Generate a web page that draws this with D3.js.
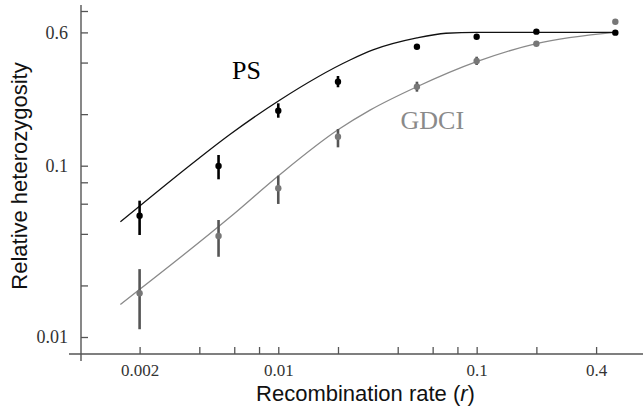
<!DOCTYPE html>
<html>
<head>
<meta charset="utf-8">
<script src="https://cdn.jsdelivr.net/npm/d3@7"></script>
<style>
  body { margin: 0; background: #fff; }
  svg { display: block; }
</style>
</head>
<body>
<div id="chart"></div>
<script>
// recombination rates of the simulated points
var rates = [0.002, 0.005, 0.01, 0.02, 0.05, 0.1, 0.2, 0.5];

// PS: means and error bar ends (null = no visible bar)
var psMean = [0.051, 0.0996, 0.2095, 0.309, 0.495, 0.566, 0.606, 0.598];
var psLow  = [0.0394, 0.0833, 0.1906, 0.287, null, null, null, null];
var psHigh = [0.0625, 0.1155, 0.2313, 0.334, null, null, null, null];

// GDCI: means and error bar ends
var gdMean = [0.018, 0.0389, 0.0738, 0.1477, 0.289, 0.4086, 0.5155, 0.693];
var gdLow  = [0.0111, 0.0294, 0.0598, 0.128, 0.2704, 0.3871, null, null];
var gdHigh = [0.0249, 0.0482, 0.0874, 0.1637, 0.3093, 0.4328, null, null];

// fitted curves
var psCurveR = [0.0016, 0.004, 0.0057, 0.0102, 0.023, 0.03, 0.05, 0.07, 0.1, 0.2, 0.5];
var psCurveH = [0.047, 0.111, 0.152, 0.242, 0.414, 0.474, 0.557, 0.593, 0.601, 0.6, 0.6];
var gdCurveR = [0.0016, 0.0057, 0.0101, 0.02, 0.029, 0.05, 0.1, 0.2, 0.5];
var gdCurveH = [0.0155, 0.05, 0.088, 0.162, 0.211, 0.289, 0.405, 0.516, 0.6];

var xTicks = [0.002, 0.004, 0.006, 0.008, 0.01, 0.02, 0.04, 0.06, 0.08, 0.1, 0.2, 0.4];
var xLabels = [0.002, 0.01, 0.1, 0.4];
var yTicks = [0.01, 0.02, 0.04, 0.06, 0.08, 0.1, 0.2, 0.4, 0.6, 0.8];
var yLabels = [0.01, 0.1, 0.6];

var width = 643, height = 416;

var svg = d3.select("#chart").append("svg")
  .attr("width", width)
  .attr("height", height);

var x = d3.scaleLog().domain([0.002, 0.4]).range([139.6, 596.1]);
var y = d3.scaleLog().domain([0.01, 0.6]).range([337, 32.4]);

var axisY0 = 354, axisX0 = 81;
var axisColor = "#555";
var serif = "'Liberation Serif', 'Times New Roman', serif";
var sans = "'Liberation Sans', Arial, sans-serif";

// x axis
var xAxis = svg.append("g")
  .attr("transform", "translate(0," + axisY0 + ")")
  .call(d3.axisBottom(x)
    .tickValues(xTicks)
    .tickSize(-7)
    .tickPadding(10)
    .tickFormat(function (d) { return xLabels.indexOf(d) >= 0 ? d3.format("")(d) : ""; }));
xAxis.select(".domain").remove();
xAxis.selectAll(".tick line").attr("stroke", axisColor).attr("stroke-width", 1.3);
xAxis.selectAll("text").attr("font-family", serif).attr("font-size", 17).attr("fill", "#333");
svg.append("line")
  .attr("x1", 69).attr("x2", width)
  .attr("y1", axisY0).attr("y2", axisY0)
  .attr("stroke", axisColor).attr("stroke-width", 1.4);

// y axis
var yAxis = svg.append("g")
  .attr("transform", "translate(" + axisX0 + ",0)")
  .call(d3.axisLeft(y)
    .tickValues(yTicks)
    .tickSize(-7)
    .tickPadding(13)
    .tickFormat(function (d) { return yLabels.indexOf(d) >= 0 ? d3.format("")(d) : ""; }));
yAxis.select(".domain").remove();
yAxis.selectAll(".tick line").attr("stroke", axisColor).attr("stroke-width", 1.3);
yAxis.selectAll("text").attr("font-family", serif).attr("font-size", 18).attr("fill", "#333");
svg.append("line")
  .attr("x1", axisX0).attr("x2", axisX0)
  .attr("y1", 5).attr("y2", 361)
  .attr("stroke", axisColor).attr("stroke-width", 1.4);

// axis titles
svg.append("text")
  .attr("x", 365.5).attr("y", 401)
  .attr("text-anchor", "middle")
  .attr("font-family", sans).attr("font-size", 22).attr("fill", "#111")
  .html("Recombination rate (<tspan font-style='italic'>r</tspan>)");

svg.append("text")
  .attr("transform", "translate(26.5,176) rotate(-90)")
  .attr("text-anchor", "middle")
  .attr("font-family", sans).attr("font-size", 22).attr("fill", "#111")
  .text("Relative heterozygosity");

// curves
var line = d3.line()
  .x(function (d) { return x(d[0]); })
  .y(function (d) { return y(d[1]); })
  .curve(d3.curveMonotoneX);

svg.append("path")
  .datum(d3.zip(gdCurveR, gdCurveH))
  .attr("d", line)
  .attr("fill", "none").attr("stroke", "#8a8a8a").attr("stroke-width", 1.3);

svg.append("path")
  .datum(d3.zip(psCurveR, psCurveH))
  .attr("d", line)
  .attr("fill", "none").attr("stroke", "#111").attr("stroke-width", 1.3);

// points with error bars
function drawSeries(mean, low, high, barColor, dotColor) {
  var data = rates.map(function (r, i) {
    return { r: r, m: mean[i], lo: low[i], hi: high[i] };
  });
  var g = svg.append("g");
  g.selectAll("line")
    .data(data.filter(function (d) { return d.lo !== null; }))
    .enter().append("line")
    .attr("x1", function (d) { return x(d.r); })
    .attr("x2", function (d) { return x(d.r); })
    .attr("y1", function (d) { return y(d.lo); })
    .attr("y2", function (d) { return y(d.hi); })
    .attr("stroke", barColor).attr("stroke-width", 2.6);
  g.selectAll("circle")
    .data(data)
    .enter().append("circle")
    .attr("cx", function (d) { return x(d.r); })
    .attr("cy", function (d) { return y(d.m); })
    .attr("r", 3.2)
    .attr("fill", dotColor);
}

drawSeries(gdMean, gdLow, gdHigh, "#555", "#777");
drawSeries(psMean, psLow, psHigh, "#000", "#000");

// series labels
svg.append("text")
  .attr("x", 232).attr("y", 79)
  .attr("font-family", serif).attr("font-size", 26).attr("fill", "#000")
  .text("PS");

svg.append("text")
  .attr("x", 400.5).attr("y", 129)
  .attr("font-family", serif).attr("font-size", 26).attr("fill", "#8a8a8a")
  .text("GDCI");
</script>
</body>
</html>
